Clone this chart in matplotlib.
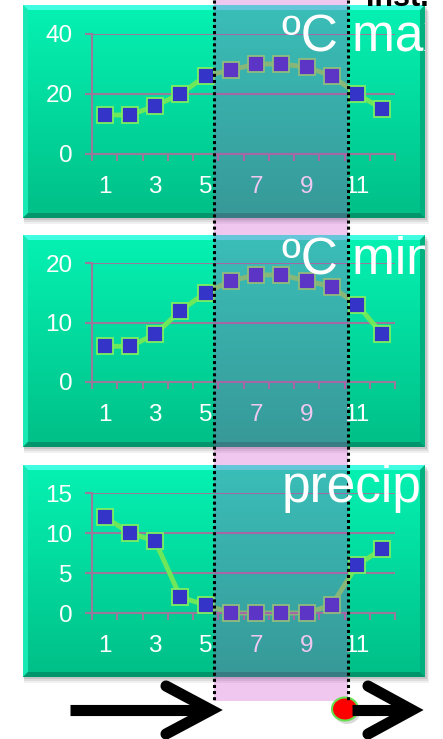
import matplotlib
matplotlib.use("Agg")
import matplotlib.pyplot as plt
import matplotlib.patches as mpatches
from matplotlib.transforms import Bbox, TransformedBbox
import numpy as np

plt.rcParams['font.family'] = ['Liberation Sans', 'DejaVu Sans']

# monthly climate values
months = [1, 2, 3, 4, 5, 6, 7, 8, 9, 10, 11, 12]
tick_months = [1, 3, 5, 7, 9, 11]
temp_max = [13, 13, 16, 20, 26, 28, 30, 30, 29, 26, 20, 15]
temp_min = [6, 6, 8, 12, 15, 17, 18, 18, 17, 16, 13, 8]
precip = [12, 10, 9, 2, 1, 0, 0, 0, 0, 1, 6, 8]

titles = ['ºC max', 'ºC min', 'precip']
y_ticks = [[0, 20, 40], [0, 10, 20], [0, 5, 10, 15]]
dry_season = (5.33, 10.64)  # months shaded in the band

W, H = 443, 739
fig = plt.figure(figsize=(W / 100, H / 100), dpi=100)


def px_axes(x0, y0, x1, y1, **kw):
    return fig.add_axes([x0 / W, 1 - y1 / H, (x1 - x0) / W, (y1 - y0) / H], **kw)


bg = px_axes(0, 0, W, H)
bg.set_xlim(0, W)
bg.set_ylim(H, 0)
bg.axis('off')

# panel boxes (left, top, right, bottom) in pixels, plus plot area y range
boxes = [(23, 5, 425, 218), (23, 235, 425, 447), (23, 465, 425, 677)]
plot_y = [(34, 154), (263, 382), (493, 613)]
title_base = [52, 273, 502]
series = [temp_max, temp_min, precip]

grad = np.linspace(0, 1, 100)[:, None]
top_col = np.array([0.02, 0.95, 0.70])
bot_col = np.array([0.0, 0.75, 0.53])
grad_img = top_col * (1 - grad[..., None]) + bot_col * grad[..., None]

for (x0, y0, x1, y1) in boxes:
    # soft shadow
    for k, a in zip([6, 4, 2], [0.06, 0.08, 0.1]):
        bg.add_patch(mpatches.Rectangle((x0 + 1, y0 + k), x1 - x0 + k / 2, y1 - y0,
                                        color='black', alpha=a, lw=0))
    bg.imshow(grad_img, extent=(x0, x1, y1, y0), aspect='auto', zorder=1)
    b = 5
    bg.add_patch(mpatches.Polygon([(x0, y0), (x1, y0), (x1 - b, y0 + b), (x0 + b, y0 + b)],
                                  color='#40fde2', lw=0, zorder=2))
    bg.add_patch(mpatches.Polygon([(x0, y0), (x0 + b, y0 + b), (x0 + b, y1 - b), (x0, y1)],
                                  color='#18e8b4', lw=0, zorder=2))
    bg.add_patch(mpatches.Polygon([(x1, y0), (x1 - b, y0 + b), (x1 - b, y1 - b), (x1, y1)],
                                  color='#00b07e', lw=0, zorder=2))
    bg.add_patch(mpatches.Polygon([(x0, y1), (x0 + b, y1 - b), (x1 - b, y1 - b), (x1, y1)],
                                  color='#00956a', lw=0, zorder=2))

axis_col = '#9a7a9a'
for i, vals in enumerate(series):
    yt, yb = plot_y[i]
    ax = px_axes(92, yt, 395, yb)
    ax.patch.set_alpha(0)
    ax.plot(months, vals, color='#6ee85a', lw=3.5, zorder=2, clip_on=False)
    ax.plot(months, vals, ls='none', marker='s', ms=12, mfc='#3434c8',
            mec='#7cf060', mew=1.3, zorder=3, clip_on=False)
    ax.set_xlim(0.5, 12.5)
    ax.set_ylim(y_ticks[i][0], y_ticks[i][-1])
    ax.set_yticks(y_ticks[i])
    ax.set_xticks(tick_months)
    ax.set_xticks(np.arange(0.5, 13, 1), minor=True)
    ax.grid(axis='y', color=axis_col, lw=1.5, zorder=1)
    for s in ['top', 'right']:
        ax.spines[s].set_visible(False)
    for s in ['left', 'bottom']:
        ax.spines[s].set_color(axis_col)
        ax.spines[s].set_linewidth(1.5)
    ax.tick_params(axis='y', length=5, width=1.5, color=axis_col, pad=9,
                   labelcolor='white', labelsize=17.5)
    ax.tick_params(axis='x', which='major', length=0, pad=16,
                   labelcolor='white', labelsize=17.5)
    ax.tick_params(axis='x', which='minor', length=5, width=1.5, color=axis_col)

# overlay for the band, titles and arrows
top = px_axes(0, 0, W, H)
top.set_xlim(0, W)
top.set_ylim(H, 0)
top.axis('off')
top.patch.set_alpha(0)

# band edges converted from month positions to pixels
band_x = [92 + (m - 0.5) * (395 - 92) / 12 for m in dry_season]
top.add_patch(mpatches.Rectangle((band_x[0], 0), band_x[1] - band_x[0], 701,
                                 color=(0.78, 0.22, 0.78), alpha=0.28, lw=0))

for i, (x0, y0, x1, y1) in enumerate(boxes):
    t = top.text(282, title_base[i], titles[i], color='white', fontsize=37,
                 va='baseline', ha='left', clip_on=True)
    t.set_clip_box(TransformedBbox(Bbox([[x0, y0], [x1, y1]]), top.transData))

for bx in band_x:
    top.plot([bx, bx], [0, 701], color='black', lw=2.2, ls=(0, (1, 1)))

# arrows
top.plot([70, 205], [710, 710], color='black', lw=8, solid_capstyle='butt')
top.plot([166, 211, 166], [686, 710, 734], color='black', lw=8,
         solid_capstyle='round', solid_joinstyle='miter')
top.plot([352, 405], [710, 710], color='black', lw=8, solid_capstyle='butt')
top.plot([368, 412, 368], [686, 710, 734], color='black', lw=8,
         solid_capstyle='round', solid_joinstyle='miter')
top.add_patch(mpatches.Ellipse((347, 712), 26, 24, color='black', alpha=0.15, lw=0))
top.add_patch(mpatches.Ellipse((345, 709), 26, 23, fc='#ff0000', ec='#66e050', lw=1.5))

top.text(366, 6, 'Inst.', color='black', fontsize=22, fontweight='bold',
         va='baseline', ha='left')

fig.savefig('out.png', dpi=100)
